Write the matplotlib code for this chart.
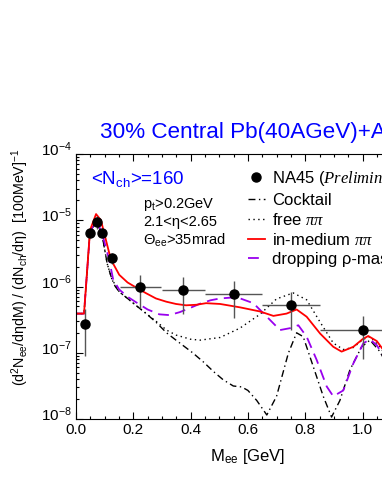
import matplotlib
matplotlib.use("Agg")
import matplotlib.pyplot as plt
from matplotlib.lines import Line2D
from matplotlib.transforms import ScaledTranslation
from matplotlib.ticker import LogLocator, MultipleLocator, NullFormatter

plt.rcParams['font.family'] = ['Liberation Sans', 'DejaVu Sans']
plt.rcParams['mathtext.fontset'] = 'custom'
plt.rcParams['mathtext.rm'] = 'Liberation Sans'
plt.rcParams['mathtext.it'] = 'Liberation Serif:italic'
plt.rcParams['mathtext.default'] = 'rm'

# NA45 data points
mass_pts = [0.031, 0.049, 0.072, 0.090, 0.125, 0.225, 0.375, 0.55, 0.75, 1.0]
yield_pts = [2.7e-7, 6.5e-6, 9.5e-6, 6.5e-6, 2.7e-6, 9.7e-7, 8.9e-7, 7.6e-7, 5.2e-7, 2.2e-7]
yerr_pts = [1.8e-7, 0.6e-6, 2.0e-6, 0.6e-6, 0.5e-6, 5.0e-7, 5.0e-7, 4.3e-7, 3.0e-7, 1.4e-7]
xerr_pts = [0, 0, 0, 0, 0.016, 0.073, 0.075, 0.10, 0.10, 0.15]

# in-medium pi pi
med_x = [0.0, 0.028, 0.049, 0.070, 0.087, 0.100, 0.116, 0.130, 0.151, 0.18, 0.209, 0.245,
         0.279, 0.315, 0.349, 0.384, 0.42, 0.454, 0.503, 0.572, 0.642, 0.689, 0.735, 0.770,
         0.805, 0.852, 0.898, 0.927, 0.968, 1.0, 1.020, 1.05, 1.08, 1.12]
med_y = [3.9e-7, 3.9e-7, 7.1e-6, 1.24e-5, 1.0e-5, 6.0e-6, 3.2e-6, 2.2e-6, 1.5e-6, 1.15e-6,
         9.7e-7, 7.9e-7, 6.6e-7, 5.9e-7, 5.45e-7, 5.2e-7, 5.3e-7, 5.6e-7, 5.45e-7, 4.85e-7,
         4.2e-7, 3.6e-7, 3.9e-7, 4.5e-7, 3.5e-7, 1.95e-7, 1.23e-7, 1.04e-7, 1.23e-7, 1.6e-7,
         1.79e-7, 1.5e-7, 1.0e-7, 7e-8]

# dropping rho mass
drop_x = [0.0, 0.028, 0.049, 0.072, 0.091, 0.105, 0.116, 0.130, 0.151, 0.18, 0.209, 0.25,
          0.291, 0.326, 0.362, 0.396, 0.433, 0.47, 0.503, 0.561, 0.619, 0.666, 0.712, 0.747,
          0.776, 0.805, 0.840, 0.875, 0.898, 0.933, 0.968, 1.003, 1.026, 1.05, 1.08, 1.12]
drop_y = [3.9e-7, 3.9e-7, 6.8e-6, 1.0e-5, 6.3e-6, 3.8e-6, 2.5e-6, 1.26e-6, 9.0e-7, 7.0e-7,
          5.8e-7, 4.5e-7, 3.8e-7, 3.7e-7, 4.1e-7, 4.7e-7, 5.5e-7, 6.2e-7, 6.6e-7, 6.9e-7,
          5.6e-7, 3.5e-7, 2.2e-7, 2.35e-7, 2.6e-7, 1.75e-7, 7.8e-8, 3.1e-8, 2.2e-8, 2.7e-8,
          6.9e-8, 1.39e-7, 1.59e-7, 1.3e-7, 8e-8, 4.5e-8]

# hadronic cocktail
cock_x = [0.0, 0.028, 0.049, 0.072, 0.091, 0.109, 0.125, 0.137, 0.151, 0.18, 0.209, 0.245,
          0.279, 0.316, 0.349, 0.407, 0.444, 0.48, 0.514, 0.549, 0.578, 0.600, 0.631, 0.666,
          0.700, 0.741, 0.770, 0.793, 0.828, 0.863, 0.892, 0.921, 0.956, 0.997, 1.026, 1.061,
          1.09, 1.12]
cock_y = [3.9e-7, 3.9e-7, 6.8e-6, 9.5e-6, 6.0e-6, 2.2e-6, 1.3e-6, 1.0e-6, 8.3e-7, 6.6e-7,
          5.2e-7, 3.9e-7, 2.9e-7, 2.0e-7, 1.55e-7, 1.0e-7, 7.3e-8, 5.2e-8, 3.9e-8, 3.15e-8,
          3.05e-8, 2.7e-8, 1.9e-8, 1.15e-8, 2.2e-8, 9.8e-8, 2.0e-7, 1.75e-7, 6.2e-8, 2.2e-8,
          1.07e-8, 1.9e-8, 5.5e-8, 1.23e-7, 1.55e-7, 1.04e-7, 6e-8, 3.5e-8]

# free pi pi
free_x = [0.0, 0.028, 0.049, 0.072, 0.091, 0.109, 0.125, 0.151, 0.209, 0.279, 0.316, 0.349,
          0.40, 0.433, 0.503, 0.572, 0.642, 0.700, 0.758, 0.805, 0.852, 0.898, 0.933, 0.968,
          1.003, 1.026, 1.061, 1.09, 1.12]
free_y = [3.9e-7, 3.9e-7, 6.8e-6, 9.5e-6, 6.0e-6, 2.2e-6, 1.3e-6, 8.3e-7, 5.2e-7, 3.0e-7,
          2.2e-7, 1.85e-7, 1.6e-7, 1.55e-7, 1.7e-7, 2.35e-7, 3.8e-7, 6.5e-7, 8.0e-7, 6.3e-7,
          2.9e-7, 1.4e-7, 1.12e-7, 1.2e-7, 1.6e-7, 1.75e-7, 1.23e-7, 8e-8, 5e-8]

W, H = 382, 494
fig = plt.figure(figsize=(W / 100, H / 100), dpi=100)
# axis runs 0..1.2 GeV; right part is outside the canvas like in the original
ax = fig.add_axes([76 / W, 1 - 419 / H, 343.8 / W, 265 / H])

purple = '#9900ee'
ax.plot(cock_x, cock_y, color='black', lw=1.0, dashes=(5, 2.5, 1, 2.5))
ax.plot(free_x, free_y, color='black', lw=1.0, dashes=(1, 2.5))
ax.plot(drop_x, drop_y, color=purple, lw=1.3, dashes=(6, 3.5))
ax.plot(med_x, med_y, color='red', lw=1.3)
ax.errorbar(mass_pts, yield_pts, yerr=yerr_pts, xerr=xerr_pts, fmt='o', color='black',
            ms=6.5, ecolor='#555555', elinewidth=1.0, capsize=0, zorder=5)

ax.set_yscale('log')
ax.set_xlim(0, 1.2)
ax.set_ylim(1e-8, 1e-4)
ax.xaxis.set_major_locator(MultipleLocator(0.2))
ax.xaxis.set_minor_locator(MultipleLocator(0.05))
ax.yaxis.set_major_locator(LogLocator(base=10))
ax.yaxis.set_minor_locator(LogLocator(base=10, subs=range(2, 10)))
ax.yaxis.set_minor_formatter(NullFormatter())
ax.xaxis.set_major_formatter(plt.FuncFormatter(lambda v, p: '%.1f' % v))
ax.tick_params(which='both', direction='in', top=True, right=False, labelsize=11, width=0.8)
ax.tick_params(which='major', length=5, pad=3)
ax.tick_params(which='minor', length=2.5)
for sp in ax.spines.values():
    sp.set_linewidth(0.8)

# ROOT puts the decade labels a little above the tick
shift = ScaledTranslation(0, 4 / 72, fig.dpi_scale_trans)
for lab in ax.get_yticklabels():
    lab.set_transform(lab.get_transform() + shift)

ax.set_xlabel('M$_{\\mathrm{ee}}$ [GeV]', fontsize=12, labelpad=7)
ax.set_ylabel('(d$^{2}$N$_{\\mathrm{ee}}$/dηdM) / (dN$_{\\mathrm{ch}}$/dη)  [100MeV]$^{-1}$',
              fontsize=10.3)
ax.yaxis.set_label_coords(-0.13, 0.572)

fig.text(100 / W, 1 - 138 / H, '30% Central Pb(40AGeV)+Au', color='blue', fontsize=16.2,
         va='baseline', ha='left')
ax.text(0.045, 0.885, '<N$_{\\mathrm{ch}}$>=160', color='blue', fontsize=13.5,
        transform=ax.transAxes)
ax.text(0.195, 0.797, 'p$_{\\mathrm{t}}$>0.2GeV', fontsize=10.5, transform=ax.transAxes)
ax.text(0.195, 0.727, '2.1<η<2.65', fontsize=10.5, transform=ax.transAxes)
ax.text(0.195, 0.657, 'Θ$_{\\mathrm{ee}}$>35mrad', fontsize=10.5, transform=ax.transAxes)

handles = [
    Line2D([], [], ls='none', marker='o', color='black', ms=6.5),
    Line2D([], [], color='black', lw=1.0, dashes=(5, 2.5, 1, 2.5)),
    Line2D([], [], color='black', lw=1.0, dashes=(1, 2.5)),
    Line2D([], [], color='red', lw=1.3),
    Line2D([], [], color=purple, lw=1.3, dashes=(6, 3.5)),
]
labels = ['NA45 ($\\mathit{Preliminary}$)', 'Cocktail', 'free $\\mathit{\\pi\\pi}$',
          'in-medium $\\mathit{\\pi\\pi}$', 'dropping ρ-mass scenario']
ax.legend(handles, labels, loc='upper left', bbox_to_anchor=(0.5, 0.945), frameon=False,
          fontsize=12, handlelength=1.0, handletextpad=0.45, labelspacing=0.25,
          borderaxespad=0, borderpad=0)

fig.savefig('out.png', dpi=100)
